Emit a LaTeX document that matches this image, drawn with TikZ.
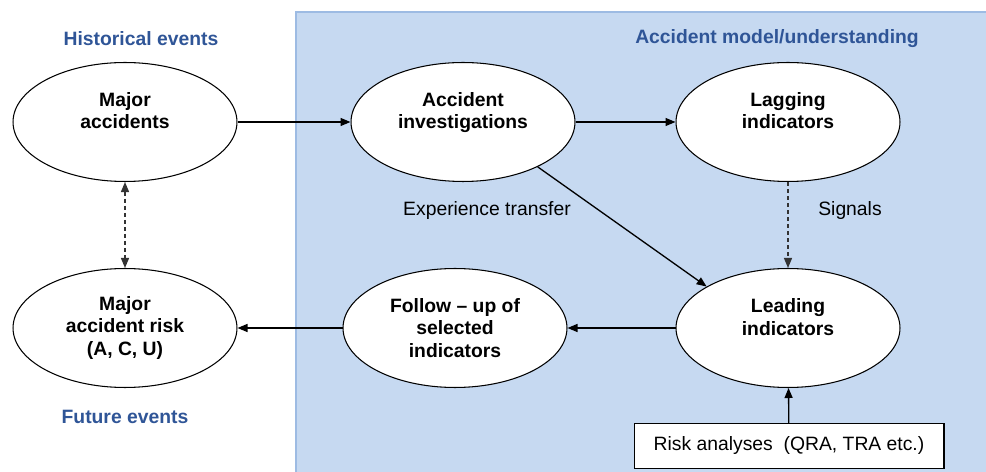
\documentclass[tikz,border=0pt]{standalone}
\usepackage{fontspec}
\setmainfont{Liberation Sans}
\usetikzlibrary{arrows.meta,shapes.geometric}
\definecolor{modelfill}{HTML}{C6D9F1}
\definecolor{modelline}{HTML}{9DBBE3}
\definecolor{headblue}{HTML}{2F5597}
\begin{document}
\begin{tikzpicture}[x=0.02cm,y=-0.02cm,
    every node/.style={font=\fontsize{11}{13}\selectfont},
    bubble/.style={ellipse,draw,fill=white,line width=0.6pt,align=center,
        minimum width=4.48cm,minimum height=2.38cm,inner sep=0pt,
        font=\fontsize{11}{13}\selectfont\bfseries},
    head/.style={text=headblue,font=\fontsize{11}{13}\selectfont\bfseries},
    flow/.style={line width=0.75pt,-{Triangle[length=2mm,width=1.6mm]}},
    hint/.style={flow,dash pattern=on 2.3pt off 1.7pt,draw=black!80}]

        \useasboundingbox (0,0) rectangle (986,472);
        \fill[modelfill] (296,12) rectangle (986,472);
        \draw[modelline,line width=0.9pt] (986,12) -- (296,12) -- (296,472);

        \node[head] (hist) at (141,39) {Historical events};
        \node[head] (model) at (777,39) {Accident model/understanding};
        \node[head] (future) at (125,417) {Future events};

        \node[bubble] (major) at (125,122) {Major\\accidents\\\mbox{}};
        \node[bubble] (inv) at (463,122) {Accident\\investigations\\\mbox{}};
        \node[bubble] (lag) at (788,122) {Lagging\\indicators\\\mbox{}};
        \node[bubble] (lead) at (788,328) {Leading\\indicators\\\mbox{}};
        \node[bubble] (follow) at (455,328) {Follow -- up of\\selected\\indicators};
        \node[bubble] (risk) at (125,328) {Major\\accident risk\\(A, C, U)};

        \node[draw,fill=white,line width=0.6pt,minimum width=6.2cm,minimum height=0.9cm]
            (qra) at (789,446) {Risk analyses\ \ (QRA,\ TRA etc.)};

        \node (exp) at (487,211) {Experience transfer};
        \node (sig) at (850,211) {Signals};

        \draw[flow] (major) -- (inv);
        \draw[flow] (inv) -- (lag);
        \draw[flow] (inv.-31.4) -- (lead.153);
        \draw[hint] (lag) -- (lead);
        \draw[flow] (lead) -- (follow);
        \draw[flow] (follow) -- (risk);
        \draw[flow] (qra) -- (lead);
        \draw[hint,{Triangle[length=2mm,width=1.6mm]}-{Triangle[length=2mm,width=1.6mm]}] (major) -- (risk);
    \end{tikzpicture}
\end{document}
